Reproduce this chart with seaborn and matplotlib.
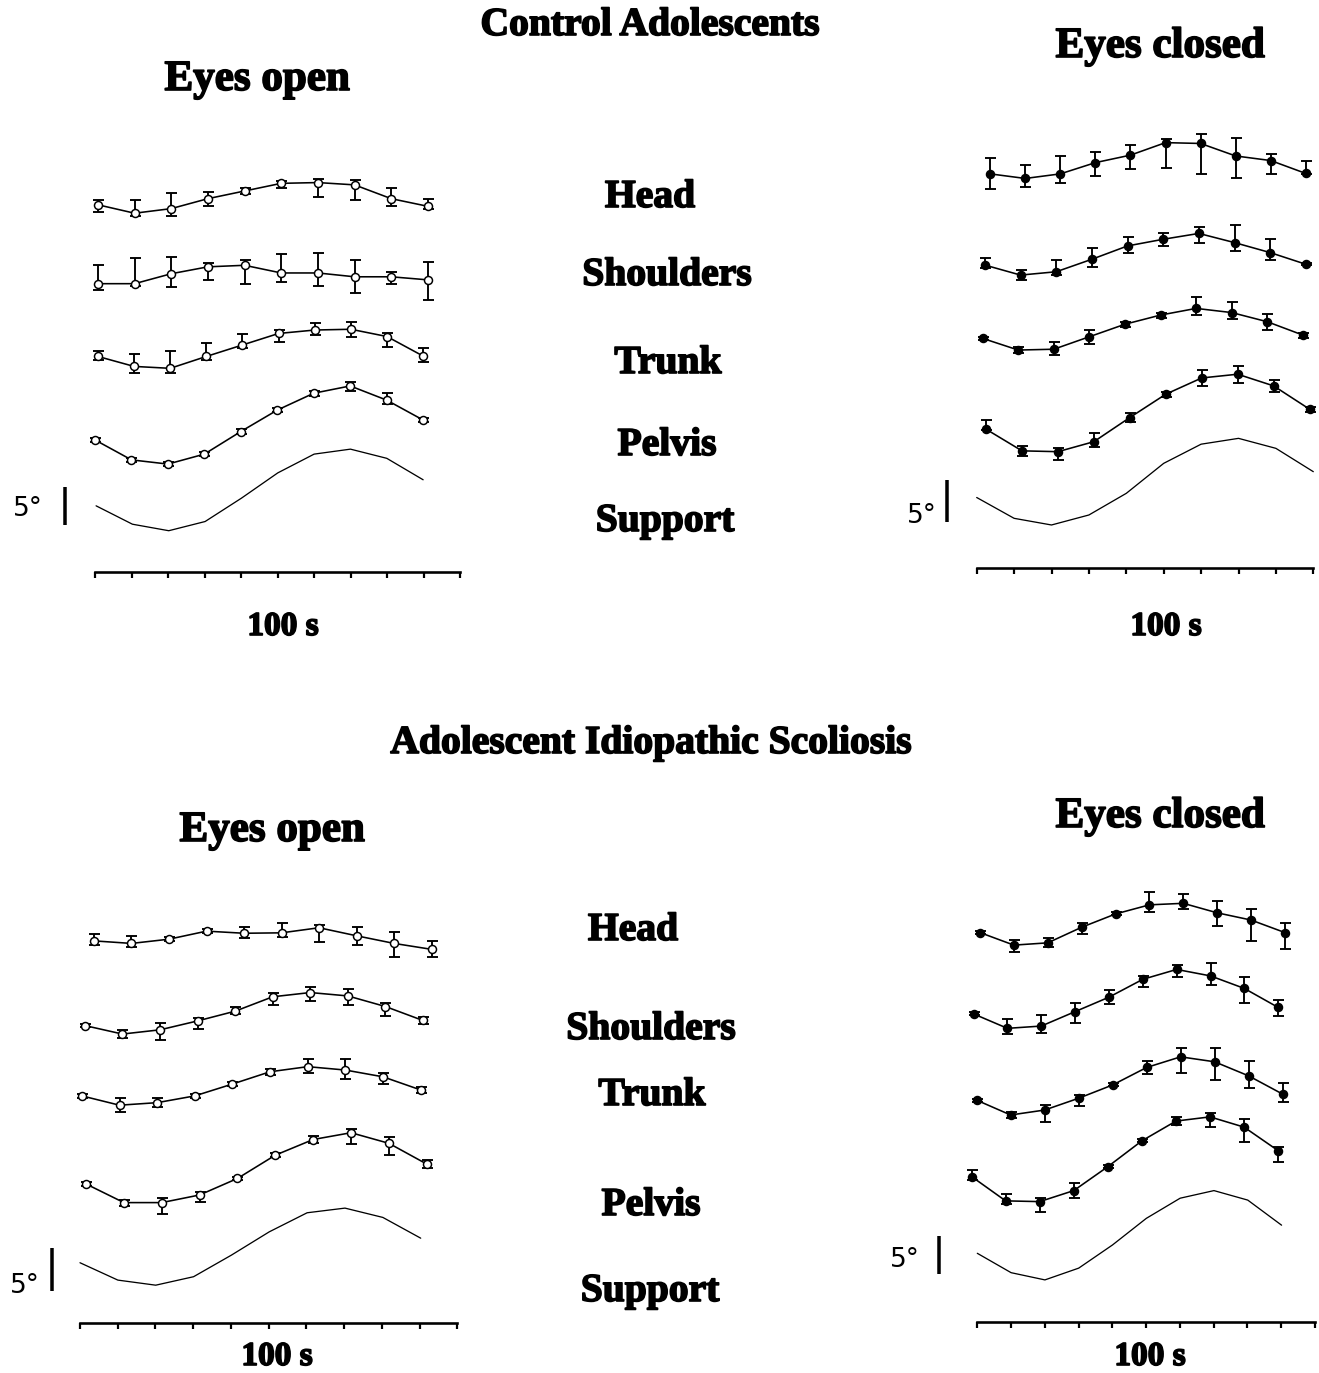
import numpy as np
import pandas as pd
import matplotlib
matplotlib.use("Agg")
import matplotlib.pyplot as plt
import matplotlib.patheffects as pe
import seaborn as sns

# ----------------------------------------------------------------- data
SEGMENTS = ["Head", "Shoulders", "Trunk", "Pelvis"]
TIME_S = [0, 10, 20, 30, 40, 50, 60, 70, 80, 90]  # sample times (s)

# Control adolescents, eyes open (deg, deviation from each trace's baseline)
CTRL_EO_MEAN = [
    [-0.1, -1.2, -0.6, 0.7, 1.7, 2.7, 2.8, 2.5, 0.7, -0.3],
    [-0.4, -0.4, 0.9, 1.8, 2.0, 1.0, 1.0, 0.5, 0.5, 0.1],
    [0.1, -1.2, -1.45, 0.1, 1.6, 3.1, 3.55, 3.65, 2.7, 0.15],
    [-0.8, -3.4, -3.95, -2.65, 0.3, 3.1, 5.3, 6.25, 4.4, 1.8],
]
CTRL_EO_ERR_UP = [
    [0.6, 1.7, 2.0, 0.9, 0.4, 0.35, 0.5, 0.65, 1.4, 1.0],
    [2.4, 3.4, 2.2, 0.5, 0.65, 2.5, 2.6, 2.2, 0.65, 2.3],
    [0.65, 1.65, 2.2, 1.75, 1.45, 0.45, 0.9, 1.0, 0.5, 1.1],
    [0.3, 0.3, 0.3, 0.3, 0.3, 0.3, 0.3, 0.5, 0.9, 0.3],
]
CTRL_EO_ERR_DN = [
    [0.9, 0.4, 1.0, 0.9, 0.35, 0.65, 1.9, 2.0, 0.9, 0.3],
    [0.8, 0.35, 1.7, 1.7, 2.5, 1.2, 1.7, 2.1, 0.9, 2.6],
    [0.5, 0.8, 0.55, 0.5, 0.45, 1.1, 0.65, 1.05, 1.4, 0.75],
    [0.3, 0.3, 0.3, 0.3, 0.3, 0.3, 0.3, 0.6, 0.5, 0.3],
]
CTRL_EO_SUPPORT = [-1.4, -3.8, -4.65, -3.45, -0.4, 2.9, 5.35, 6.0, 4.8, 2.0]

# Control adolescents, eyes closed
CTRL_EC_MEAN = [
    [-0.65, -1.2, -0.65, 0.7, 1.6, 3.1, 3.0, 1.5, 0.95, -0.6],
    [-0.6, -1.8, -1.4, 0.1, 1.7, 2.5, 3.2, 2.1, 0.9, -0.5],
    [-0.4, -1.8, -1.7, -0.2, 1.3, 2.4, 3.2, 2.7, 1.6, 0.0],
    [-1.3, -3.9, -4.0, -2.8, 0.1, 2.9, 4.85, 5.3, 3.9, 1.1],
]
CTRL_EC_ERR_UP = [
    [1.9, 1.6, 2.15, 1.3, 1.2, 0.4, 1.1, 2.1, 0.8, 1.5],
    [0.9, 0.6, 1.4, 1.3, 1.05, 0.8, 0.8, 2.1, 1.6, 0.1],
    [0.2, 0.35, 0.9, 0.85, 0.3, 0.3, 1.4, 1.3, 0.9, 0.3],
    [1.1, 0.6, 0.4, 1.0, 0.5, 0.3, 0.9, 1.0, 0.7, 0.3],
]
CTRL_EC_ERR_DN = [
    [1.85, 1.0, 1.05, 1.6, 1.7, 3.0, 3.7, 2.7, 1.6, 0.1],
    [0.4, 0.6, 0.4, 0.9, 0.8, 0.8, 1.1, 1.0, 0.9, 0.1],
    [0.2, 0.35, 0.7, 0.85, 0.3, 0.3, 0.8, 0.8, 1.0, 0.3],
    [0.1, 0.6, 1.0, 0.6, 0.5, 0.3, 1.0, 1.0, 0.7, 0.3],
]
CTRL_EC_SUPPORT = [-1.5, -4.0, -4.8, -3.6, -1.0, 2.6, 4.9, 5.6, 4.4, 1.6]

# Adolescent idiopathic scoliosis, eyes open
AIS_EO_MEAN = [
    [0.15, -0.15, 0.35, 1.3, 1.05, 1.1, 1.7, 0.75, -0.15, -0.85],
    [-0.85, -1.85, -1.35, -0.3, 0.85, 2.55, 3.05, 2.65, 1.4, -0.25],
    [-0.15, -1.25, -0.95, -0.15, 1.25, 2.7, 3.3, 2.9, 2.1, 0.55],
    [-1.55, -3.75, -3.75, -2.85, -0.9, 1.85, 3.7, 4.5, 3.25, 0.8],
]
AIS_EO_ERR_UP = [
    [0.85, 0.85, 0.2, 0.2, 0.7, 1.2, 0.3, 1.05, 1.4, 1.0],
    [0.2, 0.45, 0.85, 0.3, 0.45, 0.4, 0.7, 0.8, 0.45, 0.45],
    [0.2, 0.8, 0.55, 0.2, 0.2, 0.35, 0.85, 1.25, 0.45, 0.35],
    [0.2, 0.35, 0.5, 0.4, 0.2, 0.2, 0.45, 0.45, 0.8, 0.45],
]
AIS_EO_ERR_DN = [
    [0.5, 0.4, 0.2, 0.2, 0.6, 0.5, 1.65, 1.05, 1.55, 0.85],
    [0.2, 0.45, 1.25, 1.0, 0.3, 1.0, 0.95, 1.05, 1.1, 0.45],
    [0.2, 0.8, 0.55, 0.2, 0.2, 0.35, 0.8, 1.0, 0.85, 0.35],
    [0.2, 0.35, 1.35, 0.8, 0.2, 0.2, 0.45, 1.35, 1.4, 0.45],
]
AIS_EO_SUPPORT = [-1.85, -3.9, -4.5, -3.5, -0.95, 1.8, 4.05, 4.6, 3.5, 1.05]

# Adolescent idiopathic scoliosis, eyes closed
AIS_EC_MEAN = [
    [-0.8, -2.45, -2.15, -0.1, 1.65, 2.85, 3.05, 1.8, 0.85, -0.8],
    [-1.5, -3.4, -3.1, -1.2, 0.7, 3.05, 4.35, 3.5, 1.85, -0.65],
    [-0.85, -2.8, -2.15, -0.6, 1.15, 3.45, 4.85, 4.2, 2.35, -0.05],
    [-1.9, -5.1, -5.2, -3.75, -0.6, 2.8, 5.4, 5.95, 4.6, 1.5],
]
AIS_EC_ERR_UP = [
    [0.2, 0.65, 0.6, 0.6, 0.2, 1.75, 1.2, 1.6, 1.4, 1.3],
    [0.2, 1.2, 1.45, 1.2, 0.9, 0.45, 0.55, 1.75, 1.45, 0.95],
    [0.2, 0.4, 0.65, 0.45, 0.2, 0.8, 1.1, 1.75, 1.9, 1.4],
    [0.9, 0.9, 0.45, 1.05, 0.2, 0.2, 0.5, 0.5, 1.05, 0.5],
]
AIS_EC_ERR_DN = [
    [0.2, 0.9, 0.6, 0.9, 0.2, 1.0, 0.8, 1.75, 2.7, 2.2],
    [0.2, 0.75, 0.95, 1.45, 0.9, 0.95, 1.05, 1.2, 1.9, 1.15],
    [0.2, 0.4, 1.55, 1.0, 0.2, 0.8, 2.1, 2.4, 1.6, 1.0],
    [0.45, 0.35, 1.3, 1.0, 0.2, 0.2, 0.5, 1.3, 1.9, 1.45],
]
AIS_EC_SUPPORT = [-2.0, -4.55, -5.5, -3.95, -0.9, 2.6, 5.25, 6.25, 5.0, 1.7]

SCALE_DEG = 5  # length of the angular scale bar

# --------------------------------------------------------------- layout
W, H = 1319, 1373
PANELS = [
    dict(mean=CTRL_EO_MEAN, up=CTRL_EO_ERR_UP, dn=CTRL_EO_ERR_DN,
         support=CTRL_EO_SUPPORT, filled=False,
         axis_y=571.7, ppd=7.66, tick0=95.0, dx=36.5, nticks=11,
         offsets=[48, 38, 28, 18], sup_offset=10,
         spans=[(0.08, 9.12), (0.08, 9.12), (0.08, 8.99), (0.0, 8.99)],
         sup_span=(0.03, 8.99), scale_x=-0.82, scale_y0=6.1),
    dict(mean=CTRL_EC_MEAN, up=CTRL_EC_ERR_UP, dn=CTRL_EC_ERR_DN,
         support=CTRL_EC_SUPPORT, filled=True,
         axis_y=568.3, ppd=8.33, tick0=976.7, dx=37.4, nticks=10,
         offsets=[48, 37, 28, 18], sup_offset=10,
         spans=[(0.36, 8.8), (0.22, 8.8), (0.16, 8.72), (0.25, 8.9)],
         sup_span=(0.0, 9.0), scale_x=-0.80, scale_y0=5.6),
    dict(mean=AIS_EO_MEAN, up=AIS_EO_ERR_UP, dn=AIS_EO_ERR_DN,
         support=AIS_EO_SUPPORT, filled=False,
         axis_y=1323.3, ppd=8.47, tick0=80.0, dx=37.73, nticks=11,
         offsets=[45, 36, 27, 18], sup_offset=9,
         spans=[(0.37, 9.32), (0.13, 9.09), (0.05, 9.03), (0.16, 9.19)],
         sup_span=(0.0, 9.03), scale_x=-0.75, scale_y0=3.85),
    dict(mean=AIS_EC_MEAN, up=AIS_EC_ERR_UP, dn=AIS_EC_ERR_DN,
         support=AIS_EC_SUPPORT, filled=True,
         axis_y=1321.7, ppd=7.6, tick0=977.3, dx=33.77, nticks=11,
         offsets=[52, 42, 30, 21], sup_offset=11,
         spans=[(0.08, 9.11), (-0.11, 8.91), (-0.02, 9.04), (-0.17, 8.91)],
         sup_span=(0.0, 9.01), scale_x=-1.125, scale_y0=6.28),
]

sns.set_theme(style="white")
plt.rcParams["font.family"] = ["Liberation Serif", "DejaVu Serif"]

fig = plt.figure(figsize=(W / 100, H / 100), dpi=100)
fig.patch.set_facecolor("white")

PX = 72 / 100  # points per pixel
t = np.asarray(TIME_S, dtype=float)

for p in PANELS:
    xlo, xhi = -2.6, p["nticks"] - 1 + 0.15
    ylo, yhi = -3.0, 60.0
    left = p["tick0"] + xlo * p["dx"]
    width = (xhi - xlo) * p["dx"]
    bottom_px = p["axis_y"] - ylo * p["ppd"]
    height = (yhi - ylo) * p["ppd"]
    ax = fig.add_axes([left / W, 1 - bottom_px / H, width / W, height / H])
    ax.set_xlim(xlo * 10, xhi * 10)
    ax.set_ylim(ylo, yhi)
    ax.patch.set_visible(False)

    # support trace
    s0, s1 = p["sup_span"]
    xs = (s0 + t / 90.0 * (s1 - s0)) * 10
    df_s = pd.DataFrame({"t": xs, "deg": np.asarray(p["support"]) + p["sup_offset"]})
    sns.lineplot(data=df_s, x="t", y="deg", ax=ax, color="black",
                 lw=1.3 * PX, estimator=None, sort=False)

    # segment traces
    for i, seg in enumerate(SEGMENTS):
        a, b = p["spans"][i]
        xs = (a + t / 90.0 * (b - a)) * 10
        ys = np.asarray(p["mean"][i]) + p["offsets"][i]
        ax.errorbar(xs, ys, yerr=[p["dn"][i], p["up"][i]], fmt="none",
                    ecolor="black", elinewidth=1.9 * PX, capsize=5.5 * PX,
                    capthick=1.9 * PX, zorder=3)
        df = pd.DataFrame({"t": xs, "deg": ys})
        sns.lineplot(data=df, x="t", y="deg", ax=ax, color="black",
                     lw=1.6 * PX, estimator=None, sort=False, marker="o",
                     markersize=8 * PX,
                     markerfacecolor="black" if p["filled"] else "white",
                     markeredgecolor="black", markeredgewidth=1.5 * PX,
                     zorder=4)

    # scale bar
    ax.vlines(p["scale_x"] * 10, p["scale_y0"], p["scale_y0"] + SCALE_DEG,
              color="black", lw=3.5 * PX)

    # time axis
    for side in ["left", "right", "top"]:
        ax.spines[side].set_visible(False)
    ax.spines["bottom"].set_position(("data", 0))
    ax.spines["bottom"].set_bounds(0, (p["nticks"] - 1) * 10)
    ax.spines["bottom"].set_linewidth(2.6 * PX)
    ax.spines["bottom"].set_color("black")
    ax.set_xticks(np.arange(p["nticks"]) * 10)
    ax.set_xticklabels([])
    ax.set_yticks([])
    ax.tick_params(axis="x", direction="out", length=6 * PX, width=2.2 * PX,
                   color="black", bottom=True)
    ax.set_xlabel("")
    ax.set_ylabel("")

HEAVY = [pe.withStroke(linewidth=1.2, foreground="black")]


def txt(x, y, s, size, weight="bold", family=None, heavy=True):
    kw = dict(ha="center", va="baseline", fontsize=size, fontweight=weight,
              color="black")
    if family:
        kw["family"] = family
    tx = fig.text(x / W, 1 - y / H, s, **kw)
    if heavy:
        tx.set_path_effects(HEAVY)


LBL = 28.5
EYE = 31
TIM = 24
txt(650, 35, "Control Adolescents", LBL)
txt(257, 90, "Eyes open", EYE)
txt(1160, 57, "Eyes closed", EYE)
txt(650, 207, "Head", LBL)
txt(667, 285, "Shoulders", LBL)
txt(668, 373, "Trunk", LBL)
txt(667, 455, "Pelvis", LBL)
txt(665, 531, "Support", LBL)
txt(283, 635, "100 s", TIM)
txt(1166, 635, "100 s", TIM)

txt(651, 753, "Adolescent Idiopathic Scoliosis", LBL)
txt(272, 841, "Eyes open", EYE)
txt(1160, 827, "Eyes closed", EYE)
txt(633, 940, "Head", LBL)
txt(651, 1039, "Shoulders", LBL)
txt(652, 1105, "Trunk", LBL)
txt(651, 1215, "Pelvis", LBL)
txt(650, 1301, "Support", LBL)
txt(277, 1365, "100 s", TIM)
txt(1150, 1365, "100 s", TIM)

SANS = ["DejaVu Sans"]
txt(28, 516, "5°", 19, weight="normal", family=SANS, heavy=False)
txt(922, 523, "5°", 19, weight="normal", family=SANS, heavy=False)
txt(25, 1293, "5°", 19, weight="normal", family=SANS, heavy=False)
txt(905, 1267, "5°", 19, weight="normal", family=SANS, heavy=False)

fig.savefig("out.png", dpi=100, facecolor="white")
